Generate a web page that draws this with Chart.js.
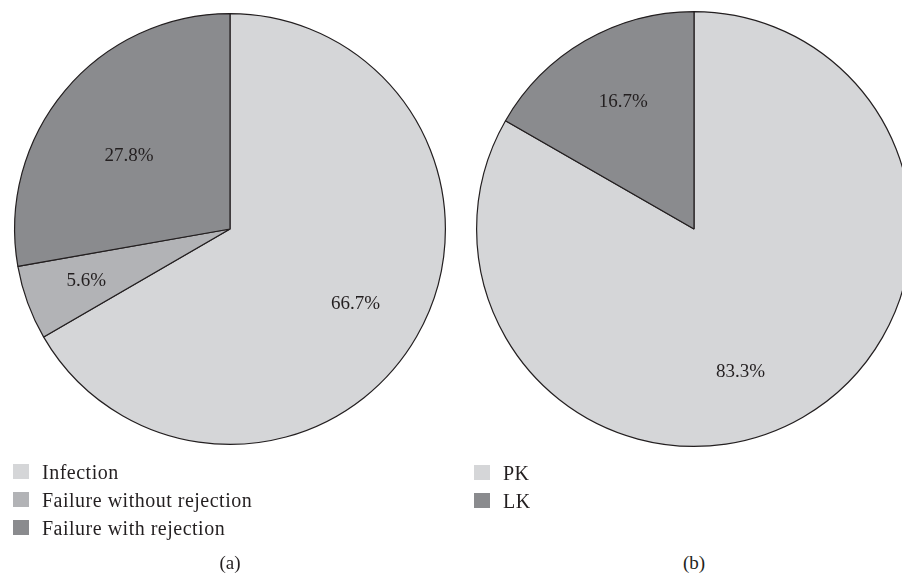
<!DOCTYPE html>
<html>
<head>
<meta charset="utf-8">
<script src="https://cdn.jsdelivr.net/npm/chart.js@4.4.1/dist/chart.umd.min.js"></script>
<style>
  html, body { margin: 0; padding: 0; background: #fff; overflow: hidden; }
  body { width: 902px; height: 576px; position: relative; font-family: "Liberation Serif", serif; color: #231f20; }
  canvas { position: absolute; top: 0; }
  #pieA { left: 0; }
  #pieB { left: 464px; }
  .legend { position: absolute; font-size: 20px; letter-spacing: 0.5px; line-height: 28px; }
  .legend div { position: relative; padding-left: 29px; white-space: nowrap; }
  .legend span { position: absolute; left: 0; top: 6px; width: 16px; height: 15px; }
  .caption { position: absolute; top: 552px; font-size: 19px; width: 60px; text-align: center; }
</style>
</head>
<body>
<canvas id="pieA" width="460" height="460"></canvas>
<canvas id="pieB" width="460" height="460"></canvas>
<div class="legend" id="legendA" style="left:13px; top:458px;"></div>
<div class="legend" id="legendB" style="left:474px; top:459px;"></div>
<div class="caption" style="left:200px;">(a)</div>
<div class="caption" style="left:664px;">(b)</div>
<script>
// Chart (a): causes of failure
const labelsA = ['Infection', 'Failure without rejection', 'Failure with rejection'];
const valuesA = [66.7, 5.6, 27.8];
const colorsA = ['#d5d6d8', '#b2b3b6', '#8a8b8e'];

// Chart (b): procedure
const labelsB = ['PK', 'LK'];
const valuesB = [83.3, 16.7];
const colorsB = ['#d5d6d8', '#8a8b8e'];

// label placement: radius fraction and angle nudge (deg) per slice
const placeA = [[0.68, 1], [0.71, 0], [0.58, -4]];
const placeB = [[0.69, 12], [0.67, 1]];

const pctLabels = {
    id: 'pctLabels',
    afterDatasetsDraw(chart, args, opts) {
        const ctx = chart.ctx;
        const arcs = chart.getDatasetMeta(0).data;
        const vals = chart.data.datasets[0].data;
        ctx.save();
        ctx.font = '19px "Liberation Serif", serif';
        ctx.fillStyle = '#231f20';
        ctx.textAlign = 'center';
        ctx.textBaseline = 'middle';
        arcs.forEach(function(arc, i) {
            const p = opts.place[i];
            const mid = (arc.startAngle + arc.endAngle) / 2 + p[1] * Math.PI / 180;
            const r = arc.outerRadius * p[0];
            ctx.fillText(vals[i].toFixed(1) + '%', arc.x + Math.cos(mid) * r, arc.y + Math.sin(mid) * r);
        });
        ctx.restore();
    }
};

function makePie(id, labels, values, colors, place, pad) {
    return new Chart(document.getElementById(id), {
        type: 'pie',
        data: {
            labels: labels,
            datasets: [{
                data: values,
                backgroundColor: colors,
                borderColor: '#231f20',
                borderWidth: 1.2
            }]
        },
        options: {
            responsive: false,
            animation: false,
            layout: { padding: pad },
            plugins: {
                legend: { display: false },
                tooltip: { enabled: false },
                pctLabels: { place: place }
            }
        },
        plugins: [pctLabels]
    });
}

function makeLegend(id, labels, colors) {
    const el = document.getElementById(id);
    labels.forEach(function(l, i) {
        const row = document.createElement('div');
        const sw = document.createElement('span');
        sw.style.background = colors[i];
        row.appendChild(sw);
        row.appendChild(document.createTextNode(l));
        el.appendChild(row);
    });
}

makePie('pieA', labelsA, valuesA, colorsA, placeA, { left: 14, right: 14, top: 13, bottom: 15 });
makePie('pieB', labelsB, valuesB, colorsB, placeB, { left: 12, right: 12, top: 11, bottom: 13 });
makeLegend('legendA', labelsA, colorsA);
makeLegend('legendB', labelsB, colorsB);
</script>
</body>
</html>
